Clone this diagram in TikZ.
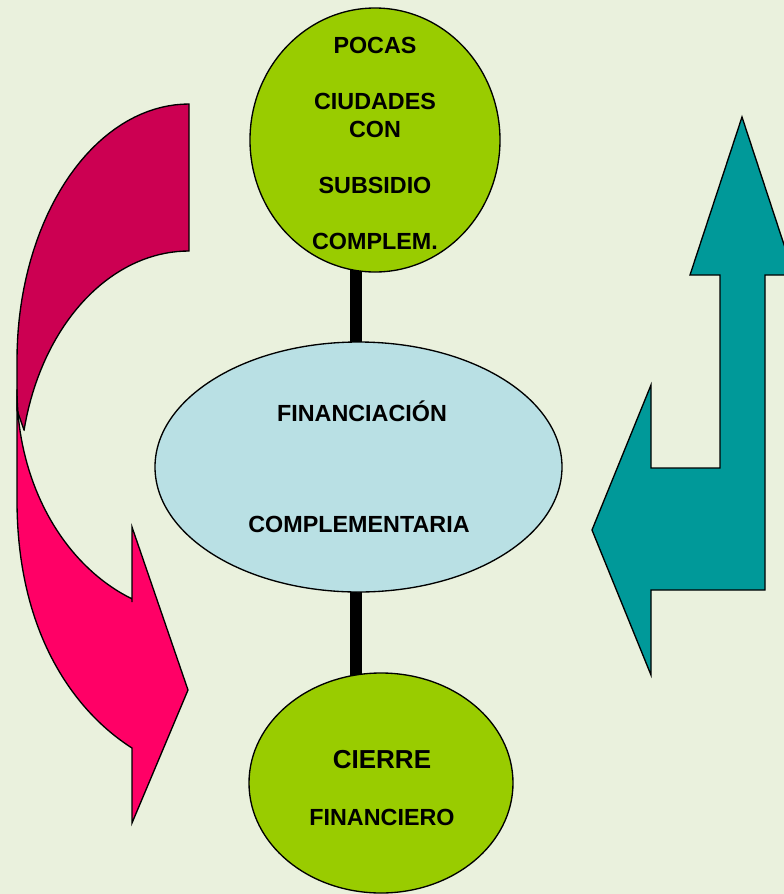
\documentclass[tikz,border=0pt]{standalone}
\usepackage{fontspec}
\setmainfont{Liberation Sans}
\usetikzlibrary{shapes.geometric,backgrounds}
\definecolor{bgcol}{HTML}{EAF1DD}
\definecolor{crimsonband}{HTML}{CC0052}
\definecolor{pinkband}{HTML}{FF0066}
\definecolor{tealarrow}{HTML}{009999}
\definecolor{greencirc}{HTML}{99CC00}
\definecolor{blueell}{HTML}{B9E0E4}
\tikzset{
  circnode/.style={ellipse, draw=black, line width=1pt, fill=greencirc, inner sep=0pt},
  midnode/.style={circnode, fill=blueell},
  label/.style={anchor=base, inner sep=0pt, font=\bfseries\fontsize{17.5}{21}\selectfont},
  biglabel/.style={label, font=\bfseries\fontsize{19.5}{23}\selectfont},
  conn/.style={line width=8.5pt, black},
  shapeline/.style={draw=black, line width=1pt, line join=miter}
}
\begin{document}
\begin{tikzpicture}[x=0.75pt,y=-0.75pt]
\useasboundingbox (0,0) rectangle (784,894);
\clip (0,0) rectangle (784,894);

% left curved arrow (back band)
\path[shapeline, fill=crimsonband]
  plot[domain=270:180, samples=40, variable=\t] ({189+172*cos(\t)},{360+256*sin(\t)})
  -- (17,410) -- (24,430)
  -- plot[domain=192.6:270, samples=40, variable=\t] ({189+169*cos(\t)},{480+229*sin(\t)})
  -- cycle;
% left curved arrow (front band with head)
\path[shapeline, fill=pinkband] (17,390) -- (17,500) .. controls (17,640) and (80,715) .. (132,748)
  -- (132,823) -- (188,690) -- (132,527) -- (132,602)
  -- plot[domain=111.8:180, samples=40, variable=\t] ({200+183*cos(\t)},{390+225*sin(\t)})
  -- cycle;

% right teal arrow
\path[shapeline, fill=tealarrow] (742,117) -- (794,275) -- (765,275) -- (765,590) -- (651,590)
  -- (651,675) -- (592,530) -- (651,385) -- (651,468) -- (720,468) -- (720,275) -- (690,275) -- cycle;

% shapes
\node[circnode, minimum width=187.5pt, minimum height=198pt] (top) at (375,140) {};
\node[midnode, minimum width=305.25pt, minimum height=187.5pt] (mid) at (358.5,467) {};
\node[circnode, minimum width=198pt, minimum height=165pt] (bot) at (381,783) {};

% texts
\node[label] (t1) at (375,53) {POCAS};
\node[label] (t2) at (375,109) {CIUDADES};
\node[label] (t3) at (375,137) {CON};
\node[label] (t4) at (375,193) {SUBSIDIO};
\node[label] (t5) at (375,249) {COMPLEM.};
\node[label] (m1) at (362,421) {FINANCIACIÓN};
\node[label] (m2) at (359,532) {COMPLEMENTARIA};
\node[biglabel] (b1) at (382,768) {CIERRE};
\node[label] (b2) at (382,825) {FINANCIERO};

\begin{pgfonlayer}{background}
  \fill[bgcol] (0,0) rectangle (784,894);
  \coordinate (ctop) at (356,140);
  \coordinate (cmid) at (356,467);
  \coordinate (cbot) at (356,783);
  \draw[conn] (ctop) -- (cmid);
  \draw[conn] (cmid) -- (cbot);
\end{pgfonlayer}
\end{tikzpicture}
\end{document}
